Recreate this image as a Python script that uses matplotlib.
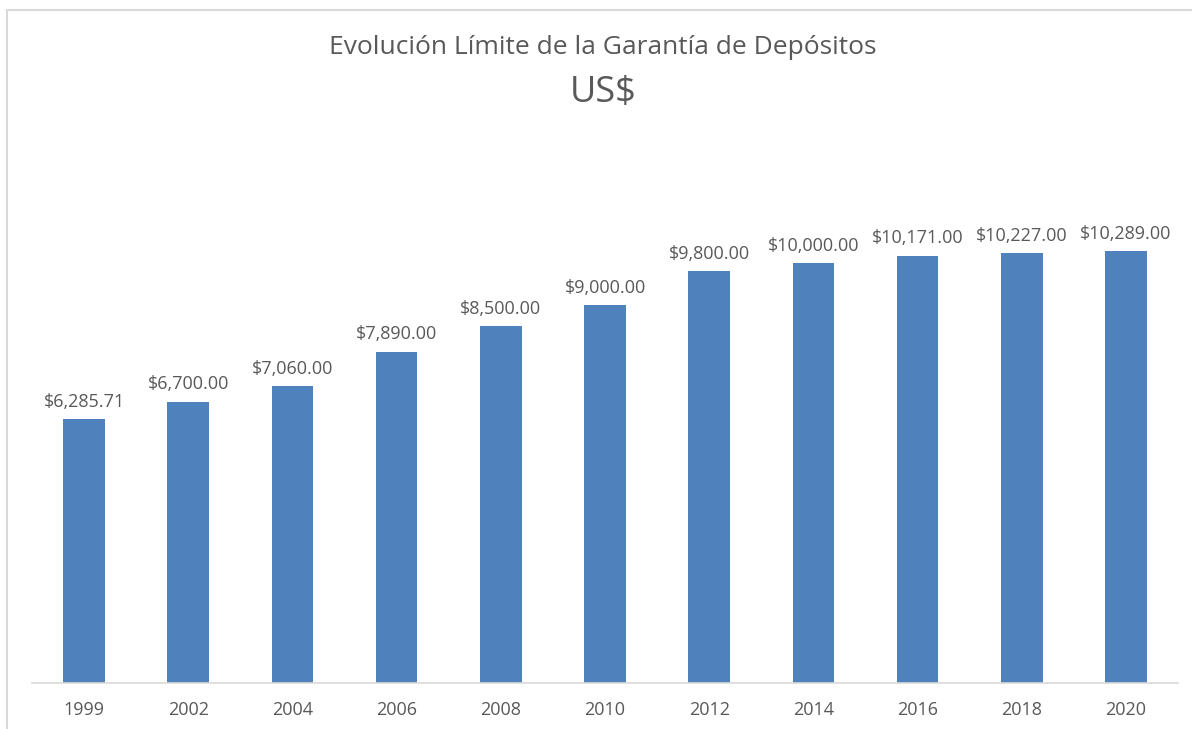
import matplotlib
matplotlib.use("Agg")
import matplotlib.pyplot as plt
from matplotlib.patches import Rectangle

years = ["1999", "2002", "2004", "2006", "2008", "2010", "2012", "2014", "2016", "2018", "2020"]
limits = [6285.71, 6700.00, 7060.00, 7890.00, 8500.00, 9000.00, 9800.00, 10000.00, 10171.00, 10227.00, 10289.00]

W, H = 1192, 729
fig = plt.figure(figsize=(W / 100, H / 100), dpi=100)
plt.rcParams['font.family'] = ['Open Sans', 'DejaVu Sans']
text_color = "#595959"

# chart border (left and top visible)
fig.add_artist(Rectangle((7.5 / W, -0.1), 1.2, (H - 10.5) / H + 0.1, transform=fig.transFigure,
                         fill=False, edgecolor="#d9d9d9", linewidth=1.5))

ax = fig.add_axes([32 / W, (H - 683) / H, (1178 - 32) / W, (683 - 179) / H])
x = list(range(len(years)))
bars = ax.bar(x, limits, width=0.4, color="#4f81bd")
ax.set_xlim(-0.5, len(years) - 0.5)
ax.set_ylim(0, 12000)
ax.set_yticks([])
ax.set_xticks(x)
ax.set_xticklabels(years, fontsize=13, color=text_color)
ax.tick_params(axis='x', length=0, pad=13)
for s in ["top", "right", "left"]:
    ax.spines[s].set_visible(False)
ax.spines["bottom"].set_color("#d9d9d9")
ax.spines["bottom"].set_linewidth(1.2)

for xi, v in zip(x, limits):
    ax.annotate(f"${v:,.2f}", (xi, v), xytext=(0, 6), textcoords="offset points",
                ha="center", va="bottom", fontsize=13, color=text_color)

fig.text(603 / W, 1 - 48 / H, "Evolución Límite de la Garantía de Depósitos", ha="center", va="center",
         fontsize=19, color=text_color)
fig.text(603 / W, 1 - 93 / H, "US$", ha="center", va="center", fontsize=26, color=text_color)

fig.savefig("out.png", dpi=100)
